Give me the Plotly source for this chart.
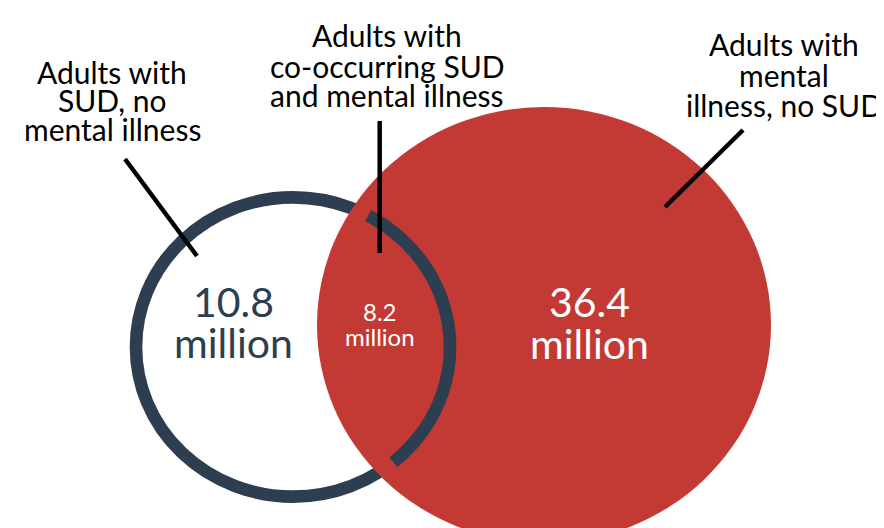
import numpy as np
import plotly.graph_objects as go

# ---- data ----
categories = ["Adults with SUD, no mental illness",
              "Adults with co-occurring SUD and mental illness",
              "Adults with mental illness, no SUD"]
values = [10.8, 8.2, 36.4]
unit = "million"
label_lines = [["Adults with", "SUD, no", "mental illness"],
               ["Adults with", "co-occurring SUD", "and mental illness"],
               ["Adults with", "mental", "illness, no SUD"]]

# ---- styles / layout geometry (pixel space) ----
NAVY = "#2C3E50"
RED = "#C23A33"
FONT = "Lato"
W, H = 884, 528

sud_c = (285, 339); sud_r = (157, 149.6); ring_w = 12.6
mi_c = (536, 317); mi_r = (227, 218)
arc_from, arc_to = -61.4, 50.3

label_pos = [(104, [74, 102.5, 131]), (379, [37.7, 68, 97.7]), (776, [46.7, 77, 107])]
label_fs = 30
leaders = [((117, 151), (189, 248)), ((371.7, 113), (371.7, 245)), ((735, 122), (657, 199))]
value_pos = [(225, 307.7, 349, 41, NAVY), (372, 312.3, 336.7, 24, "white"), (581, 308.3, 350, 41, "white")]

fig = go.Figure()
fig.add_trace(go.Scatter(x=[0, W], y=[0, H], mode="markers", marker=dict(opacity=0),
                         hoverinfo="skip", showlegend=False))

shapes = []
# SUD ring
shapes.append(dict(type="circle", xref="x", yref="y",
                   x0=sud_c[0]-sud_r[0], x1=sud_c[0]+sud_r[0],
                   y0=sud_c[1]-sud_r[1], y1=sud_c[1]+sud_r[1],
                   line=dict(color=NAVY, width=ring_w), fillcolor="white", layer="above"))
# mental illness disc
shapes.append(dict(type="circle", xref="x", yref="y",
                   x0=mi_c[0]-mi_r[0], x1=mi_c[0]+mi_r[0],
                   y0=mi_c[1]-mi_r[1], y1=mi_c[1]+mi_r[1],
                   line=dict(width=0), fillcolor=RED, layer="above"))
# part of the ring drawn over the disc
t = np.radians(np.linspace(arc_from, arc_to, 120))
hw = ring_w / 2
ox = sud_c[0] + (sud_r[0]+hw)*np.cos(t); oy = sud_c[1] + (sud_r[1]+hw)*np.sin(t)
ix = sud_c[0] + (sud_r[0]-hw)*np.cos(t[::-1]); iy = sud_c[1] + (sud_r[1]-hw)*np.sin(t[::-1])
px = np.concatenate([ox, ix]); py = np.concatenate([oy, iy])
path = "M " + " L ".join(f"{a:.2f},{b:.2f}" for a, b in zip(px, py)) + " Z"
shapes.append(dict(type="path", xref="x", yref="y", path=path,
                   fillcolor=NAVY, line=dict(width=0), layer="above"))
# leader lines
for (a, b) in leaders:
    shapes.append(dict(type="line", xref="x", yref="y", x0=a[0], y0=a[1], x1=b[0], y1=b[1],
                       line=dict(color="black", width=4.5), layer="above"))

annotations = []
def baseline_text(x, base, txt, fs, color):
    annotations.append(dict(x=x, y=base - 0.35*fs, xref="x", yref="y", text=txt, showarrow=False,
                            xanchor="center", yanchor="middle",
                            font=dict(family=FONT, size=fs, color=color)))

for (cx, bases), lines in zip(label_pos, label_lines):
    for b, ln in zip(bases, lines):
        baseline_text(cx, b, ln, label_fs, "black")

for (cx, b1, b2, fs, col), v in zip(value_pos, values):
    baseline_text(cx, b1, f"{v}", fs, col)
    baseline_text(cx, b2, unit, fs, col)

fig.update_layout(width=W, height=H, margin=dict(l=0, r=0, t=0, b=0),
                  paper_bgcolor="white", plot_bgcolor="white",
                  xaxis=dict(range=[0, W], visible=False, fixedrange=True),
                  yaxis=dict(range=[H, 0], visible=False, fixedrange=True),
                  shapes=shapes, annotations=annotations, showlegend=False)
fig.write_html("out.html")
